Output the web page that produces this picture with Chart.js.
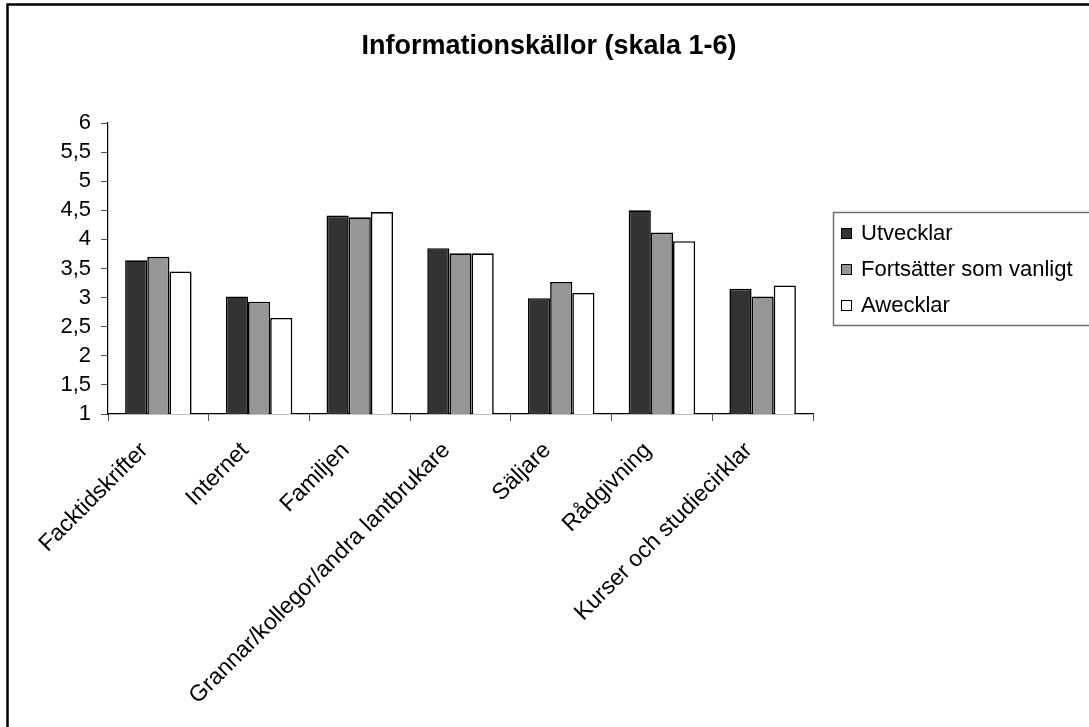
<!DOCTYPE html>
<html>
<head>
<meta charset="utf-8">
<script src="https://cdn.jsdelivr.net/npm/chart.js@4"></script>
<style>
  html, body { margin: 0; padding: 0; background: #fff; overflow: hidden; }
  #wrap { position: absolute; left: 0; top: 0; width: 1089px; height: 727px; }
</style>
</head>
<body>
<div id="wrap"><canvas id="c" width="1089" height="727"></canvas></div>
<script>
const categories = ["Facktidskrifter", "Internet", "Familjen", "Grannar/kollegor/andra lantbrukare", "Säljare", "Rådgivning", "Kurser och studiecirklar"];
const seriesNames = ["Utvecklar", "Fortsätter som vanligt", "Awecklar"];
const utvecklar = [3.64, 3.02, 4.41, 3.85, 2.99, 4.50, 3.15];
const fortsatter = [3.70, 2.93, 4.38, 3.76, 3.27, 4.12, 3.02];
const awecklar = [3.45, 2.65, 4.47, 3.76, 3.08, 3.97, 3.21];
const titleText = "Informationskällor (skala 1-6)";
const yMin = 1, yMax = 6, yStep = 0.5;

const FONT = "'Liberation Sans', Arial, sans-serif";
const fills = ["#333333", "#969696", "#ffffff"];

const framePlugin = {
  id: 'frame',
  afterDraw(chart) {
    const ctx = chart.ctx;
    ctx.save();
    // outer chart border (clipped at right/bottom in the reference)
    ctx.strokeStyle = '#000';
    ctx.lineWidth = 2.5;
    ctx.beginPath();
    ctx.moveTo(7.5, 740);
    ctx.lineTo(7.5, 4.5);
    ctx.lineTo(1100, 4.5);
    ctx.stroke();
    // title
    ctx.fillStyle = '#000';
    ctx.font = "bold 27px " + FONT;
    ctx.textAlign = 'center';
    ctx.textBaseline = 'alphabetic';
    ctx.fillText(titleText, 549, 54);
    // legend box
    ctx.strokeStyle = '#6f6f6f';
    ctx.lineWidth = 1.5;
    ctx.strokeRect(833.5, 212.5, 300, 113);
    const rows = [233, 269, 305];
    ctx.font = "22px " + FONT;
    ctx.textBaseline = 'middle';
    ctx.textAlign = 'left';
    chart.data.datasets.forEach((ds, i) => {
      const cy = rows[i];
      ctx.fillStyle = ds.backgroundColor;
      ctx.fillRect(841, cy - 5, 11, 11);
      ctx.strokeStyle = '#000';
      ctx.lineWidth = 1;
      ctx.strokeRect(841.5, cy - 4.5, 10, 10);
      ctx.fillStyle = '#000';
      ctx.fillText(ds.label, 861, cy + 1);
    });
    ctx.restore();
  }
};

new Chart(document.getElementById('c'), {
  type: 'bar',
  data: {
    labels: categories,
    datasets: [
      { label: seriesNames[0], data: utvecklar, backgroundColor: fills[0] },
      { label: seriesNames[1], data: fortsatter, backgroundColor: fills[1] },
      { label: seriesNames[2], data: awecklar, backgroundColor: fills[2] }
    ].map(d => Object.assign(d, {
      borderColor: '#000', borderWidth: 1.6, borderSkipped: false,
      categoryPercentage: 0.66, barPercentage: 1.0
    }))
  },
  options: {
    responsive: false,
    animation: false,
    devicePixelRatio: 1,
    layout: { padding: { left: 0, right: 276, top: 123, bottom: 0 } },
    plugins: {
      legend: { display: false },
      tooltip: { enabled: false },
      title: { display: false }
    },
    scales: {
      x: {
        grid: { display: true, drawOnChartArea: false, drawTicks: true, tickLength: 7, tickColor: '#555', offset: true },
        border: { display: true, color: '#000', width: 1.2 },
        ticks: {
          color: '#000', font: { family: FONT, size: 23 },
          maxRotation: 45, minRotation: 45, autoSkip: false, padding: 16, labelOffset: -14
        },
        afterFit(scale) { scale.height = 313; }
      },
      y: {
        min: yMin, max: yMax,
        grid: { display: true, drawOnChartArea: false, drawTicks: true, tickLength: 7, tickColor: '#555' },
        border: { display: true, color: '#000', width: 1.2 },
        ticks: {
          stepSize: yStep, autoSkip: false, color: '#000', font: { family: FONT, size: 22 }, padding: 10,
          callback: v => String(v).replace('.', ',')
        },
        afterFit(scale) { scale.width = 108; }
      }
    }
  },
  plugins: [framePlugin]
});
</script>
</body>
</html>
